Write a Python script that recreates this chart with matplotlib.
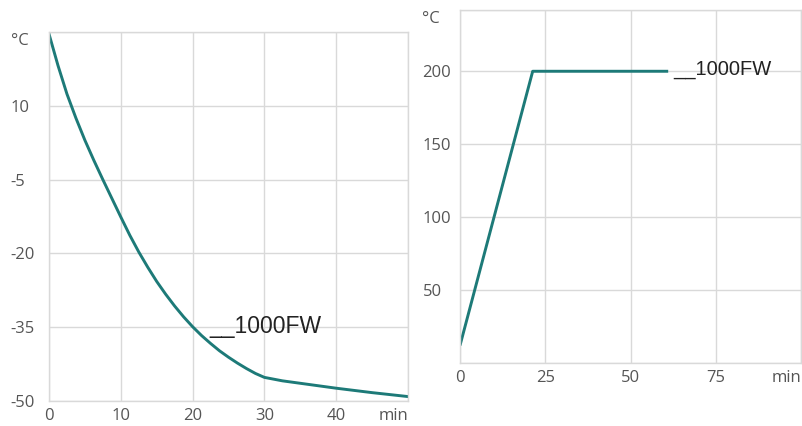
import matplotlib
matplotlib.use("Agg")
import matplotlib.pyplot as plt
from matplotlib.transforms import ScaledTranslation

# ---- data ----
cool_time = [0, 1.25, 2.5, 3.75, 5, 6.25, 7.5, 8.75, 10, 11.25, 12.5, 13.75, 15, 16.25, 17.5,
             18.75, 20, 21.25, 22.5, 23.75, 25, 26.25, 27.5, 28.75, 30, 32.5, 35, 37.5, 40,
             45, 50]
cool_temp = [24.6, 18.2, 12.4, 7.5, 3.0, -1.1, -5.0, -8.8, -12.6, -16.3, -19.7, -22.8, -25.7,
             -28.3, -30.7, -32.9, -34.9, -36.7, -38.3, -39.8, -41.1, -42.3, -43.4, -44.4,
             -45.2, -45.9, -46.4, -46.9, -47.4, -48.3, -49.1]
heat_time = [0, 21.3, 61]
heat_temp = [12, 200, 200]

cool_xticks = [0, 10, 20, 30, 40, 50]
cool_xlabels = ["0", "10", "20", "30", "40", "min"]
cool_yticks = [-50, -35, -20, -5, 10, 25]
cool_ylabels = ["-50", "-35", "-20", "-5", "10", "°C"]

heat_xticks = [0, 25, 50, 75, 100]
heat_xlabels = ["0", "25", "50", "75", "min"]
heat_yticks = [0, 50, 100, 150, 200, 242]
heat_ylabels = ["", "50", "100", "150", "200", "°C"]

series_name = "__1000FW"

LINE = "#1d7a78"
GRID = "#d9d9d9"
TICK = "#555555"

W, H = 803, 426
fig = plt.figure(figsize=(W / 100, H / 100), dpi=100)


def style(ax, xt, xl, yt, yl, ypad):
    ax.set_xticks(xt)
    ax.set_xticklabels(xl)
    ax.set_yticks(yt)
    ax.set_yticklabels(yl)
    ax.grid(True, color=GRID, linewidth=1.0)
    ax.set_axisbelow(True)
    for s in ax.spines.values():
        s.set_color(GRID)
        s.set_linewidth(1.0)
    ax.tick_params(length=0, colors=TICK, labelsize=12)
    ax.tick_params(axis="y", pad=ypad)
    ax.tick_params(axis="x", pad=5)
    for lab in ax.get_yticklabels():
        lab.set_fontfamily("Open Sans")
        lab.set_horizontalalignment("left")
    for lab in ax.get_xticklabels():
        lab.set_fontfamily("Open Sans")
    xl_objs = ax.get_xticklabels()
    xl_objs[-1].set_horizontalalignment("right")
    yl_objs = ax.get_yticklabels()
    top = yl_objs[-1]
    top.set_transform(top.get_transform() + ScaledTranslation(0, -7 / 100, fig.dpi_scale_trans))


# left: cooling
ax1 = fig.add_axes([49 / W, 1 - 401 / H, 359 / W, 369 / H])
ax1.plot(cool_time, cool_temp, color=LINE, linewidth=2.1, solid_joinstyle="round")
ax1.set_xlim(0, 50)
ax1.set_ylim(-50, 25)
style(ax1, cool_xticks, cool_xlabels, cool_yticks, cool_ylabels, 27.5)
ax1.text(22.3, -36.2, series_name, fontsize=16.5, family="Liberation Sans",
         color="#222222", va="baseline", ha="left")

# right: heating
ax2 = fig.add_axes([460 / W, 1 - 363 / H, 341.3 / W, 353 / H])
ax2.plot(heat_time, heat_temp, color=LINE, linewidth=2.1, solid_capstyle="butt")
ax2.set_xlim(0, 100)
ax2.set_ylim(0, 242)
style(ax2, heat_xticks, heat_xlabels, heat_yticks, heat_ylabels, 27)
ax2.text(62.5, 197.3, series_name, fontsize=14.5, family="Liberation Sans",
         color="#222222", va="baseline", ha="left")

fig.savefig("out.png", dpi=100)
